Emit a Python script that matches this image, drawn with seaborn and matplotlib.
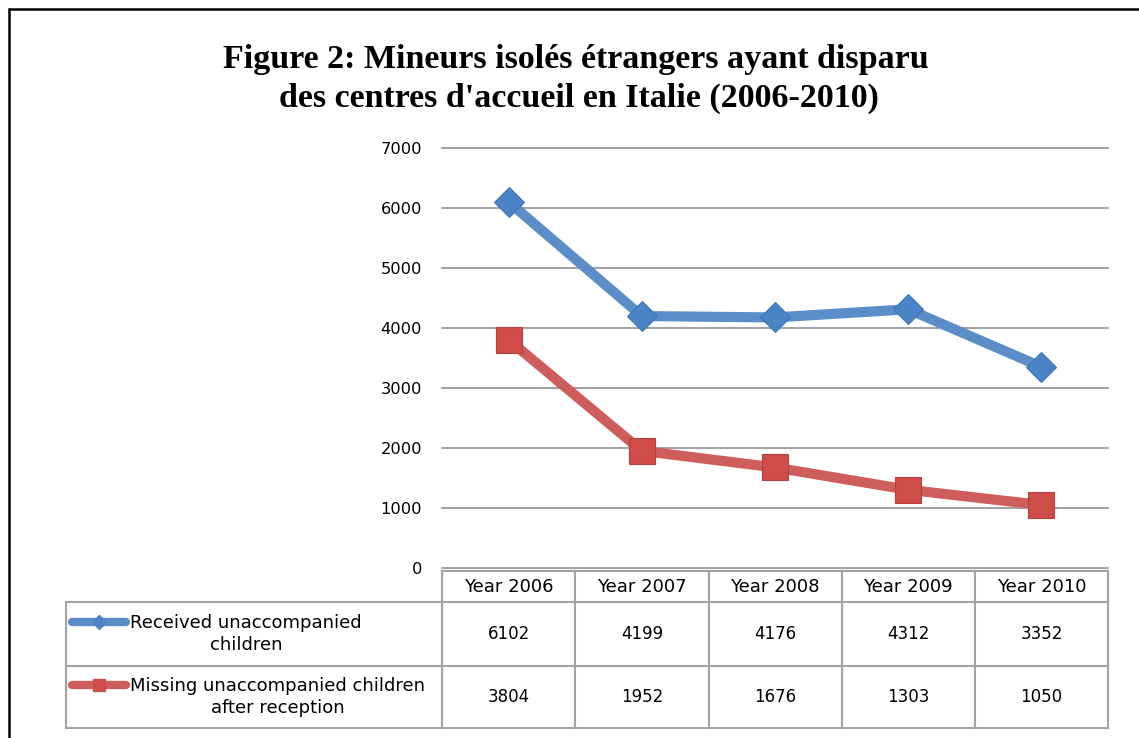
import pandas as pd
import seaborn as sns
import matplotlib.pyplot as plt
from matplotlib.lines import Line2D

# chart data
years = ["Year 2006", "Year 2007", "Year 2008", "Year 2009", "Year 2010"]
received = [6102, 4199, 4176, 4312, 3352]
missing = [3804, 1952, 1676, 1303, 1050]
series_names = ["Received unaccompanied\nchildren",
                "Missing unaccompanied children\nafter reception"]
title_lines = ["Figure 2: Mineurs isolés étrangers ayant disparu",
               "des centres d'accueil en Italie (2006-2010)"]
yticks = [0, 1000, 2000, 3000, 4000, 5000, 6000, 7000]

blue_line, blue_mark = "#5B8DC9", "#4A84C6"
red_line, red_mark = "#CD5E5B", "#CF4D48"
grey = "#A3A3A3"

sns.set_style("white")
plt.rcParams['font.family'] = ['DejaVu Sans']
plt.rcParams['text.color'] = 'black'
plt.rcParams['ytick.color'] = 'black'

W, H = 1139, 738
fig = plt.figure(figsize=(W / 100, H / 100), dpi=100)
ax = fig.add_axes([442 / W, 1 - 568 / H, 666 / W, 420 / H])

rec_df = pd.DataFrame({"pos": range(len(years)), "value": received})
mis_df = pd.DataFrame({"pos": range(len(years)), "value": missing})

sns.lineplot(data=rec_df, x="pos", y="value", color=blue_line, linewidth=7.3,
             marker="D", markersize=15, markerfacecolor=blue_mark,
             markeredgecolor="#3F76B5", markeredgewidth=0.8, ax=ax, zorder=3)
sns.lineplot(data=mis_df, x="pos", y="value", color=red_line, linewidth=7.3,
             marker="s", markersize=19, markerfacecolor=red_mark,
             markeredgecolor="#B8403C", markeredgewidth=0.8, ax=ax, zorder=3)

ax.set_xlim(-0.5, len(years) - 0.5)
ax.set_ylim(0, 7000)
ax.set_yticks(yticks)
ax.set_yticklabels([str(t) for t in yticks], fontsize=11.7)
ax.yaxis.grid(True, color=grey, linewidth=1.5)
for gl in ax.get_ygridlines():
    gl.set_clip_on(False)
ax.set_axisbelow(True)
ax.tick_params(left=False, bottom=False, labelbottom=False, pad=11)
ax.set_xlabel("")
ax.set_ylabel("")
for s in ax.spines.values():
    s.set_visible(False)

# data table under the plot (first column holds the series labels)
cell_text = [[""] + [str(v) for v in received], [""] + [str(v) for v in missing]]
col_w = [376 / 1042] + [133 / 1042] * len(years)
tbl = ax.table(cellText=cell_text, colLabels=[""] + years,
               cellLoc="center", colWidths=col_w,
               bbox=[(66 - 442) / 666, (568 - 728) / 420, 1042 / 666, 157 / 420])
tbl.auto_set_font_size(False)
tbl.set_fontsize(12)
row_h = {0: 31, 1: 64, 2: 62}
for (r, c), cell in tbl.get_celld().items():
    cell.set_height(row_h[r])
    cell.set_edgecolor(grey)
    cell.set_linewidth(1.5)
    cell.get_text().set_color("black")
    if r == 0:
        cell.get_text().set_fontsize(13)
tbl[0, 0].set_visible(False)

# legend keys + row labels
for name, col, mcol, mk, ms, yc in [(series_names[0], blue_line, blue_mark, "D", 7, 634),
                                    (series_names[1], red_line, red_mark, "s", 9, 697)]:
    fig.text(130 / W, 1 - yc / H, name, ha="left", va="center",
             multialignment="center", fontsize=13, linespacing=1.3)
    y_first = 1 - (yc - 12) / H
    fig.add_artist(Line2D([72 / W, 126 / W], [y_first, y_first], color=col,
                          lw=6, solid_capstyle="round",
                          transform=fig.transFigure))
    fig.add_artist(Line2D([99 / W], [y_first], marker=mk, markersize=ms,
                          color=mcol, transform=fig.transFigure))

# title
fig.text(576 / W, 1 - 68 / H, title_lines[0], ha="center", va="baseline",
         fontsize=24.5, fontweight="bold", family="Liberation Serif")
fig.text(579 / W, 1 - 107 / H, title_lines[1], ha="center", va="baseline",
         fontsize=24.5, fontweight="bold", family="Liberation Serif")

# frame (cut at right and bottom)
fig.add_artist(Line2D([9 / W, 9 / W], [0, 1 - 9 / H], color="black", lw=1.8,
                      transform=fig.transFigure))
fig.add_artist(Line2D([9 / W, 1], [1 - 9 / H, 1 - 9 / H], color="black", lw=1.8,
                      transform=fig.transFigure))

fig.savefig("out.png", dpi=100)
